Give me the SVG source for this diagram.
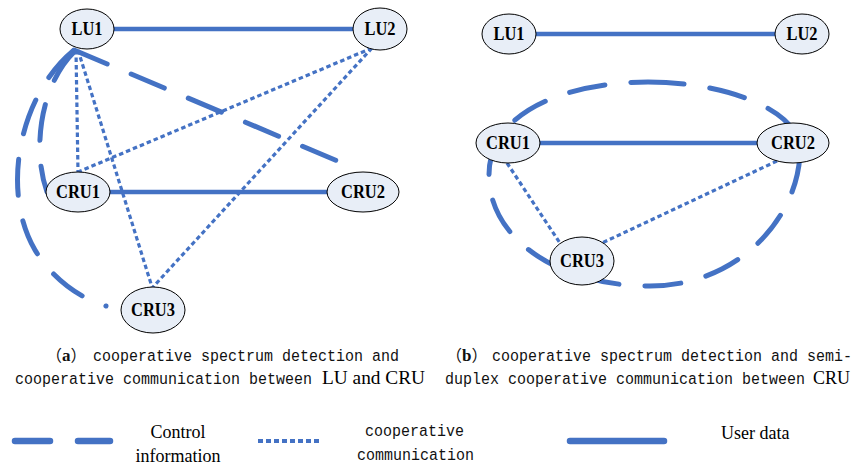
<svg xmlns="http://www.w3.org/2000/svg" width="853" height="465" viewBox="0 0 853 465">
<style>
.ctrl{fill:none;stroke:#4472C4;stroke-width:5;stroke-linecap:round;stroke-dasharray:36 26}
.coop{fill:none;stroke:#4472C4;stroke-width:3.2;stroke-dasharray:4.5 3}
.data{fill:none;stroke:#4472C4;stroke-width:4.5;stroke-linecap:round}
.node ellipse{fill:#E8EEF7;stroke:#000;stroke-width:1}
.node text{font-family:"Liberation Serif","Times New Roman",serif;font-weight:bold;font-size:19px;text-anchor:middle;fill:#000}
.mono{font-family:"Liberation Mono","Courier New","Noto Sans CJK SC",monospace;font-size:15px;fill:#111}
.serif{font-family:"Liberation Serif","Times New Roman",serif;font-size:18px;fill:#000}
.paren{font-family:"Noto Sans CJK SC","Liberation Serif",sans-serif;font-size:16px;fill:#111}
</style>
<rect width="853" height="465" fill="#fff"/>
<g id="connectors">
  <path class="ctrl" d="M73,51 C20,95 0,190 35,250 C55,283 85,300 106,306"/>
  <path class="ctrl" d="M75,51 C40,85 32,150 47,192"/>
  <path class="ctrl" d="M74,50 L347,165"/>
  <path class="coop" d="M76,50 L78,172"/>
  <path class="coop" d="M78,50 L152,287"/>
  <path class="coop" d="M372,48 L78,172"/>
  <path class="coop" d="M372,48 L153,287"/>
  <path class="data" d="M101,29 L352,29"/>
  <path class="data" d="M110,192 L328,192"/>
  <path class="ctrl" d="M648,82 C725,82 800,110 800,150 C800,215 740,286 650,286 C560,286 489,240 489,175 C489,110 570,82 648,82 Z"/>
  <path class="coop" d="M507,163 L560,243"/>
  <path class="coop" d="M777,161 L602,243"/>
  <path class="data" d="M536,34 L775,34"/>
  <path class="data" d="M540,143 L757,143"/>
</g>
<g id="a-LU1" class="node"><ellipse cx="87" cy="29" rx="27" ry="20"/><text x="87" y="35" textLength="31" lengthAdjust="spacingAndGlyphs">LU1</text></g>
<g id="a-LU2" class="node"><ellipse cx="380" cy="29" rx="27" ry="21"/><text x="380" y="35" textLength="31" lengthAdjust="spacingAndGlyphs">LU2</text></g>
<g id="a-CRU1" class="node"><ellipse cx="78" cy="192" rx="32" ry="20"/><text x="78" y="198" textLength="44" lengthAdjust="spacingAndGlyphs">CRU1</text></g>
<g id="a-CRU2" class="node"><ellipse cx="363" cy="192" rx="36" ry="20"/><text x="363" y="198" textLength="44" lengthAdjust="spacingAndGlyphs">CRU2</text></g>
<g id="a-CRU3" class="node"><ellipse cx="153" cy="310" rx="32" ry="23"/><text x="153" y="316" textLength="44" lengthAdjust="spacingAndGlyphs">CRU3</text></g>
<g id="b-LU1" class="node"><ellipse cx="509" cy="34" rx="27" ry="20"/><text x="509" y="40" textLength="31" lengthAdjust="spacingAndGlyphs">LU1</text></g>
<g id="b-LU2" class="node"><ellipse cx="802" cy="34" rx="27" ry="20"/><text x="802" y="40" textLength="31" lengthAdjust="spacingAndGlyphs">LU2</text></g>
<g id="b-CRU1" class="node"><ellipse cx="508" cy="143" rx="32" ry="20"/><text x="508" y="149" textLength="44" lengthAdjust="spacingAndGlyphs">CRU1</text></g>
<g id="b-CRU2" class="node"><ellipse cx="793" cy="143" rx="36" ry="20"/><text x="793" y="149" textLength="44" lengthAdjust="spacingAndGlyphs">CRU2</text></g>
<g id="b-CRU3" class="node"><ellipse cx="582" cy="261" rx="32" ry="24"/><text x="582" y="267" textLength="44" lengthAdjust="spacingAndGlyphs">CRU3</text></g>
<g id="captions">
  <text class="paren" x="46" y="361">（<tspan font-family="Liberation Serif" font-weight="bold" font-size="17">a</tspan>）</text>
  <text class="mono" transform="translate(93,361) scale(1,1.15)">cooperative spectrum detection and</text>
  <text class="mono" transform="translate(15,384) scale(1,1.15)">cooperative communication between</text>
  <text class="serif" x="322" y="384" font-size="19" textLength="103" lengthAdjust="spacingAndGlyphs">LU and CRU</text>
  <text class="paren" x="446" y="361">（<tspan font-family="Liberation Serif" font-weight="bold" font-size="17">b</tspan>）</text>
  <text class="mono" transform="translate(492,361) scale(1,1.15)">cooperative spectrum detection and semi-</text>
  <text class="mono" transform="translate(445,384) scale(1,1.15)">duplex cooperative communication between</text>
  <text class="serif" x="813" y="384" font-size="19">CRU</text>
</g>
<g id="legend">
  <line x1="15" y1="441" x2="110" y2="441" stroke="#4472C4" stroke-width="6.5" stroke-linecap="round" stroke-dasharray="35 28"/>
  <text class="serif" x="178" y="438" text-anchor="middle">Control</text>
  <text class="serif" x="178" y="462" text-anchor="middle">information</text>
  <line x1="258" y1="441" x2="321" y2="441" stroke="#4472C4" stroke-width="4" stroke-dasharray="5 3"/>
  <text class="mono" transform="translate(365,436) scale(1,1.15)">cooperative</text>
  <text class="mono" transform="translate(357,460) scale(1,1.15)">communication</text>
  <line x1="570" y1="441" x2="664" y2="441" stroke="#4472C4" stroke-width="6.5" stroke-linecap="round"/>
  <text class="serif" x="721" y="439">User data</text>
</g>
</svg>
